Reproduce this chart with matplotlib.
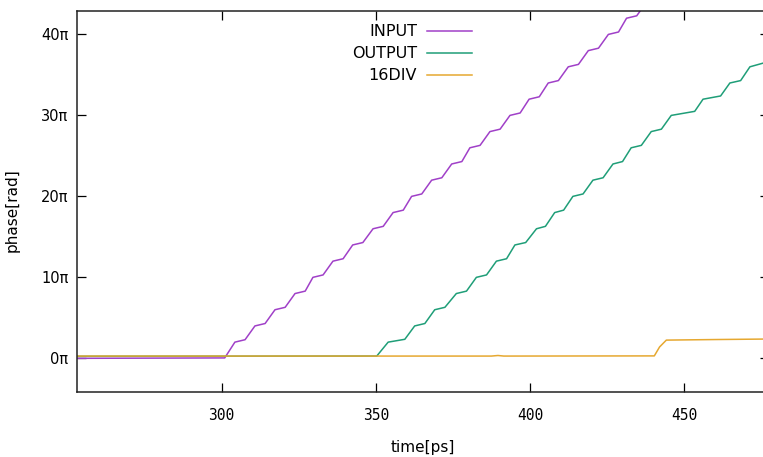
import matplotlib
matplotlib.use("Agg")
import matplotlib.pyplot as plt
from matplotlib.ticker import FuncFormatter

# phase values are in units of pi
input_t = [253, 301.0, 304.3, 307.6, 310.8, 314.1, 317.3, 320.6, 323.8, 327.1,
           329.6, 332.9, 336.1, 339.4, 342.5, 345.8, 349.1, 352.4, 355.6, 358.9,
           361.6, 364.9, 368.1, 371.4, 374.6, 377.9, 380.5, 383.8, 387.0, 390.3,
           393.5, 396.8, 399.7, 403.0, 405.9, 409.2, 412.4, 415.7, 418.9, 422.2,
           425.4, 428.7, 431.3, 434.6, 437.8]
input_phase = [0, 0.05, 2.0, 2.3, 4.0, 4.3, 6.0, 6.3, 8.0, 8.3,
               10.0, 10.3, 12.0, 12.3, 14.0, 14.3, 16.0, 16.3, 18.0, 18.3,
               20.0, 20.3, 22.0, 22.3, 24.0, 24.3, 26.0, 26.3, 28.0, 28.3,
               30.0, 30.3, 32.0, 32.3, 34.0, 34.3, 36.0, 36.3, 38.0, 38.3,
               40.0, 40.3, 42.0, 42.3, 44.0]

output_t = [253, 350.3, 354.0, 359.4, 362.6, 365.9, 369.1, 372.4, 376.1, 379.4,
            382.6, 385.9, 389.1, 392.4, 395.1, 398.6, 402.1, 405.0, 408.0, 410.9,
            413.9, 417.2, 420.4, 423.7, 426.9, 430.0, 432.8, 436.1, 439.3, 442.6,
            445.8, 453.4, 456.1, 461.8, 464.8, 468.3, 471.3, 476.0]
output_phase = [0.25, 0.28, 2.0, 2.35, 4.0, 4.3, 6.0, 6.3, 8.0, 8.3,
                10.0, 10.3, 12.0, 12.3, 14.0, 14.3, 16.0, 16.3, 18.0, 18.3,
                20.0, 20.3, 22.0, 22.3, 24.0, 24.3, 26.0, 26.3, 28.0, 28.3,
                30.0, 30.5, 32.0, 32.4, 34.0, 34.3, 36.0, 36.5]

div_t = [253, 387.5, 389.6, 391.5, 440.3, 442.0, 444.2, 460, 476]
div_phase = [0.28, 0.28, 0.35, 0.28, 0.3, 1.4, 2.25, 2.32, 2.38]

series = [("INPUT", input_t, input_phase, "#a040c8"),
          ("OUTPUT", output_t, output_phase, "#1f9e78"),
          ("16DIV", div_t, div_phase, "#e6a830")]

fig = plt.figure(figsize=(7.63, 4.57), dpi=100)
# right border of the plot sits just outside the picture
ax = fig.add_axes([0.1005, 0.1429, 0.9074, 0.8337])

for name, t, ph, col in series:
    ax.plot(t, ph, color=col, lw=1.1, label=name)

ax.set_xlim(253, 477.5)
ax.set_ylim(-4.12, 42.93)
ax.set_xticks([300, 350, 400, 450])
ax.set_yticks([0, 10, 20, 30, 40])
ax.yaxis.set_major_formatter(FuncFormatter(lambda v, p: f"{v:g}π"))

ax.tick_params(direction="in", length=6.5, width=0.9, top=True, right=True)
ax.tick_params(axis="x", pad=12, labelsize=10.5)
ax.tick_params(axis="y", pad=6, labelsize=10.5)
for lab in ax.get_xticklabels():
    lab.set_family("DejaVu Sans Mono")
for sp in ax.spines.values():
    sp.set_linewidth(1.1)
    sp.set_color("#222222")

ax.set_xlabel("time[ps]", fontsize=11)
ax.set_ylabel("phase[rad]", fontsize=11)
ax.xaxis.set_label_coords(0.5, -0.127)
ax.yaxis.set_label_coords(-0.082, 0.477)

ax.legend(loc="upper right", bbox_to_anchor=(0.5714, 0.9645), frameon=False,
          markerfirst=False, fontsize=11.5, handlelength=2.85,
          handletextpad=0.6, labelspacing=0.44, borderpad=0, borderaxespad=0)

fig.savefig("out.png", dpi=100)
